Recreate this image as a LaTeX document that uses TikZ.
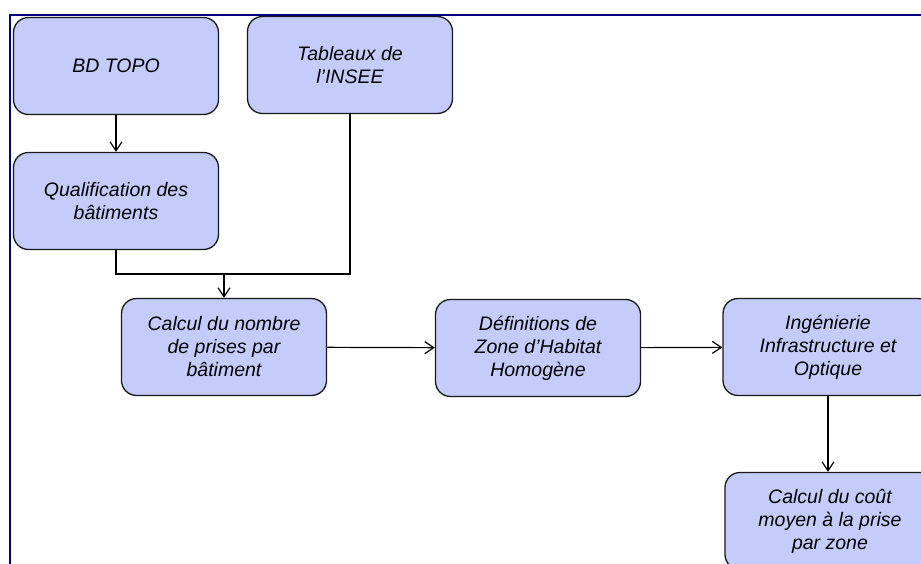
\documentclass[tikz,border=0pt]{standalone}
\usepackage{fontspec}
\usetikzlibrary{arrows.meta}
\setmainfont{Liberation Sans}
\definecolor{boxblue}{HTML}{C3CCFB}
\definecolor{framenavy}{HTML}{000080}

\begin{document}
\begin{tikzpicture}[x=1pt, y=-1pt, >={Straight Barb[length=9pt,width=12pt]},
    stepbox/.style={draw=black!90, line width=1.3pt, fill=boxblue, rounded corners=15pt,
        minimum width=205pt, minimum height=97pt, align=center, inner sep=2pt,
        font=\fontsize{19.5}{23}\selectfont\itshape},
    every path/.style={line width=1.2pt}]
                    \useasboundingbox (0,0) rectangle (921,564);
                    % Frame
                    \draw[framenavy, line width=2pt] (10,564) -- (10,15) -- (921,15);

                    % Sources
                    \node[stepbox] (topo) at (116,66) {BD TOPO};
                    \node[stepbox] (insee) at (350,65) {Tableaux de\\l'INSEE};
                    \node[stepbox] (qualif) at (116,201) {Qualification des\\bâtiments};

                    % Main chain
                    \node[stepbox] (nombre) at (224,347) {Calcul du nombre\\de prises par\\bâtiment};
                    \node[stepbox] (zone) at (538,348) {Définitions de\\Zone d'Habitat\\Homogène};
                    \node[stepbox, minimum width=210pt] (ingen) at (828,347) {Ingénierie\\Infrastructure et\\Optique};
                    \node[stepbox, minimum width=210pt] (cout) at (830,521) {Calcul du coût\\moyen à la prise\\par zone};

                    % Connectors
                    \coordinate (join) at (nombre.north |- 0,274);
                    \draw[->] (topo) -- (qualif);
                    \draw (qualif.south) |- (join);
                    \draw (insee.south) |- (join);
                    \draw[->] (join) -- (nombre.north);
                    \draw[->] (nombre) -- (zone);
                    \draw[->] (zone) -- (ingen);
                    \draw[->] (ingen.south) -- (ingen.south |- cout.north);
                \end{tikzpicture}
\end{document}
